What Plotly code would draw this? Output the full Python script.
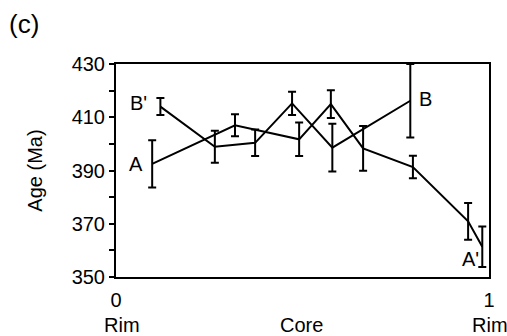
import plotly.graph_objects as go

# Series A -> A'
a_x = [0.097, 0.319, 0.491, 0.576, 0.6625, 0.796, 0.944, 0.982]
a_y = [392.5, 407.0, 401.7, 414.9, 398.3, 391.3, 370.9, 361.4]
a_err = [8.9, 4.1, 6.3, 5.2, 8.4, 4.2, 6.9, 7.6]

# Series B' -> B
b_x = [0.119, 0.265, 0.373, 0.472, 0.580, 0.789]
b_y = [414.0, 398.9, 400.4, 415.2, 398.6, 416.2]
b_err = [3.2, 6.0, 5.0, 4.4, 9.0, 13.8]

y_tickvals = [350, 360, 370, 380, 390, 400, 410, 420, 430]
y_ticktext = ["350", "", "370", "", "390", "", "410", "", "430"]
x_tickvals = [0, 1]
x_ticktext = ["0", "1"]

point_labels = ["A", "B'", "B", "A'"]
label_x = [0.054, 0.059, 0.831, 0.951]
label_y = [392.5, 415.3, 416.8, 356.7]

pos_labels = ["Rim", "Core", "Rim"]
pos_x = [0.015, 0.498, 1.003]

FONT = "Liberation Sans, Arial, Helvetica, sans-serif"

fig = go.Figure()
for xs, ys, es in [(a_x, a_y, a_err), (b_x, b_y, b_err)]:
    fig.add_trace(go.Scatter(
        x=xs, y=ys, mode="lines",
        line=dict(color="black", width=2),
        error_y=dict(type="data", array=es, visible=True,
                     color="black", thickness=2, width=4),
        showlegend=False,
    ))

annotations = []
for t, x, y in zip(point_labels, label_x, label_y):
    annotations.append(dict(x=x, y=y, xref="x", yref="y", text=t,
                            showarrow=False, font=dict(size=20, color="black", family=FONT),
                            xanchor="center", yanchor="middle"))
for t, x in zip(pos_labels, pos_x):
    annotations.append(dict(x=x, y=-0.226, xref="paper", yref="paper", text=t,
                            showarrow=False, font=dict(size=20, color="black", family=FONT),
                            xanchor="center", yanchor="middle"))
annotations.append(dict(x=-0.247, y=1.189, xref="paper", yref="paper", text="(c)",
                        showarrow=False, font=dict(size=26, color="black", family=FONT),
                        xanchor="center", yanchor="middle"))

fig.update_layout(
    width=507, height=336,
    margin=dict(l=116, r=18, t=64, b=59),
    paper_bgcolor="white", plot_bgcolor="white",
    font=dict(family=FONT, size=20, color="black"),
    annotations=annotations,
    xaxis=dict(range=[0, 1], tickvals=x_tickvals, ticktext=x_ticktext,
               showline=True, mirror=True, linecolor="black", linewidth=2,
               showgrid=False, zeroline=False, ticks="", ticklabelstandoff=4,
               tickfont=dict(size=20)),
    yaxis=dict(range=[350, 430], tickvals=y_tickvals, ticktext=y_ticktext,
               showline=True, mirror=True, linecolor="black", linewidth=2,
               showgrid=False, zeroline=False, ticks="outside", ticklen=5,
               tickwidth=2, tickcolor="black", tickfont=dict(size=20),
               title=dict(text="Age (Ma)", font=dict(size=20), standoff=24)),
)

fig.write_html("out.html", config={"responsive": False, "displayModeBar": False},
               post_script="document.body.style.margin='0';document.body.style.padding='0';")
